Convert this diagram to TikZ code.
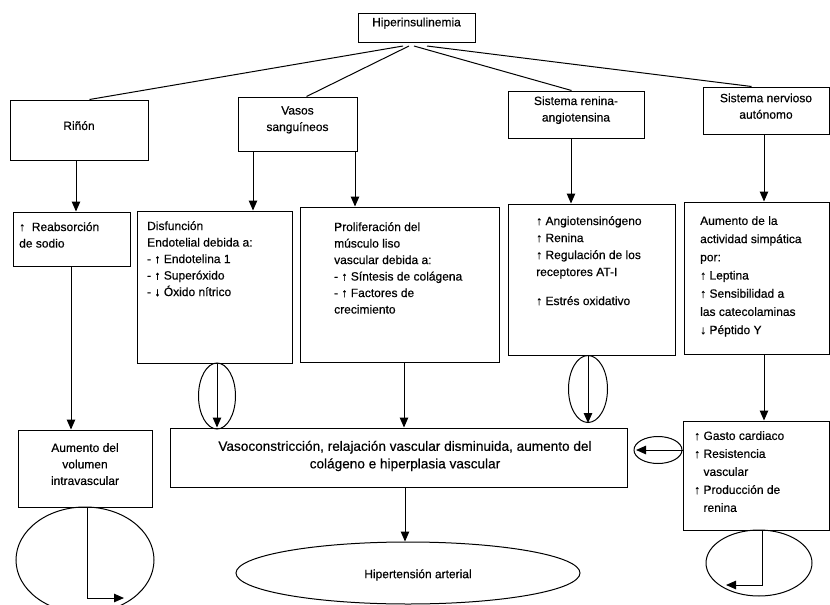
\documentclass[tikz,border=0pt]{standalone}
\usepackage{fontspec}
\setmainfont{Liberation Sans}[FakeBold=0.4]
\usetikzlibrary{arrows.meta,shapes.geometric,fit,calc}
\newcommand{\dfont}{\fontsize{12}{16.5}\selectfont}
\begin{document}
\begin{tikzpicture}[x=1pt,y=-1pt,
  box/.style={draw, line width=1pt, inner sep=0pt, align=center, font=\dfont},
  txt/.style={inner sep=0pt, align=left, anchor=north west, font=\dfont},
  ctxt/.style={inner sep=0pt, align=center, font=\dfont},
  arr/.style={line width=1pt, -{Triangle[length=10pt,width=8.5pt]}},
  ln/.style={line width=1pt},
  ring/.style={draw, ellipse, line width=1pt, inner sep=0pt},
]
\clip (0,0) rectangle (830,605);
\fill[white] (0,0) rectangle (830,605);

% top level
\node[box, fit={(358,13) (475,42)}] (hip) {Hiperinsulinemia};

% first row
\node[box, fit={(10,100) (148,160)}] (rin) {Riñón};
\node[box, fit={(238,97) (357,151)}] (vas) {Vasos\\sanguíneos};
\node[box, fit={(508,91) (644,138)}] (ren) {Sistema renina-\\angiotensina};
\node[box, fit={(703,87) (829,134)}] (ner) {Sistema nervioso\\autónomo};

\coordinate (h1) at (403,46);
\coordinate (h2) at (409,46);
\coordinate (h3) at (414,46);
\coordinate (h4) at (427,46);
\draw[ln] (h1) -- ($(rin.north west)+(80,0)$);
\draw[ln] (h2) -- ($(vas.north west)+(69,0)$);
\draw[ln] (h3) -- ($(ren.north west)+(64,0)$);
\draw[ln] (h4) -- ($(ner.north west)+(49,0)$);

% second row
\node[box, fit={(13,212) (130,266)}] (reab) {};
\node[txt] (treab) at (19,222) {↑ \ Reabsorción\\de sodio};

\node[box, fit={(137,211) (292,363)}] (dis) {};
\node[txt] (tdis) at (147,221) {Disfunción\\Endotelial debida a:\\- ↑ Endotelina 1\\- ↑ Superóxido\\- ↓ Óxido nítrico};

\node[box, fit={(300,207) (499,362)}] (pro) {};
\node[txt] (tpro) at (334,222) {Proliferación del\\músculo liso\\vascular debida a:\\- ↑ Síntesis de colágena\\- ↑ Factores de\\crecimiento};

\node[box, fit={(508,204) (675,355)}] (ang) {};
\node[txt, font=\fontsize{12}{17}\selectfont] (tang) at (536,216) {↑ Angiotensinógeno\\↑ Renina\\↑ Regulación de los\\receptores AT-I\\[12pt]↑ Estrés oxidativo};

\node[box, fit={(684,202) (829,354)}] (sim) {};
\node[txt, font=\fontsize{12}{18.2}\selectfont] (tsim) at (700,216) {Aumento de la\\actividad simpática\\por:\\↑ Leptina\\↑ Sensibilidad a\\las catecolaminas\\↓ Péptido Y};

% arrows into the second row
\draw[arr] (rin.south -| 76,0) -- (reab.north -| 76,0);
\draw[arr] (vas.south -| 253,0) -- (dis.north -| 253,0);
\draw[arr] (vas.south -| 355,0) -- (pro.north -| 355,0);
\draw[arr] (ren.south -| 571,0) -- (ang.north -| 571,0);
\draw[arr] (ner.south -| 764,0) -- (sim.north -| 764,0);

% third row
\node[box, fit={(18,430) (152,507)}] (vol) {Aumento del\\volumen\\intravascular};
\node[box, fit={(170,428) (627,487)}] (vaso) {};
\node[ctxt, font=\fontsize{13.6}{17.5}\selectfont] (tvaso) at (405,456) {Vasoconstricción, relajación vascular disminuida, aumento del\\colágeno e hiperplasia vascular};
\node[box, fit={(683,421) (829,530)}] (gas) {};
\node[txt, font=\fontsize{12}{18}\selectfont] (tgas) at (694,431) {↑ Gasto cardiaco\\↑ Resistencia\\\phantom{↑ }vascular\\↑ Producción de\\\phantom{↑ }renina};

% arrows into the third row
\draw[arr] (reab.south -| 71,0) -- (vol.north -| 71,0);
\node[ring, minimum width=37, minimum height=66] (o1) at (217,396) {};
\draw[arr] (dis.south -| 217,0) -- (vaso.north -| 217,0);
\draw[arr] (pro.south -| 404,0) -- (vaso.north -| 404,0);
\node[ring, minimum width=39, minimum height=67] (o2) at (588,389) {};
\coordinate (tipA) at (588,423);
\draw[arr] (ang.south -| tipA) -- (tipA);
\draw[arr] (sim.south -| 764,0) -- (gas.north -| 764,0);

% loop from the right into the central box
\node[ring, minimum width=48, minimum height=27] (o4) at (658,450) {};
\coordinate (tipL) at (636,450);
\draw[arr] (gas.west |- tipL) -- (tipL);

% bottom loops
\node[ring, minimum width=138, minimum height=106] (o3) at (85,560) {};
\coordinate (e3) at (124,598);
\draw[arr] (vol.south -| 87,0) |- (e3);

\node[ring, minimum width=106, minimum height=66] (o5) at (759,563) {};
\coordinate (e5) at (726,585);
\draw[arr] (gas.south -| 762,0) |- (e5);

% result
\node[ring, minimum width=344, minimum height=62] (hta) at (408,573) {};
\node[ctxt] (thta) at (418,575) {Hipertensión arterial};
\draw[arr] (vaso.south -| 405,0) -- (hta.north -| 405,0);
\end{tikzpicture}
\end{document}
